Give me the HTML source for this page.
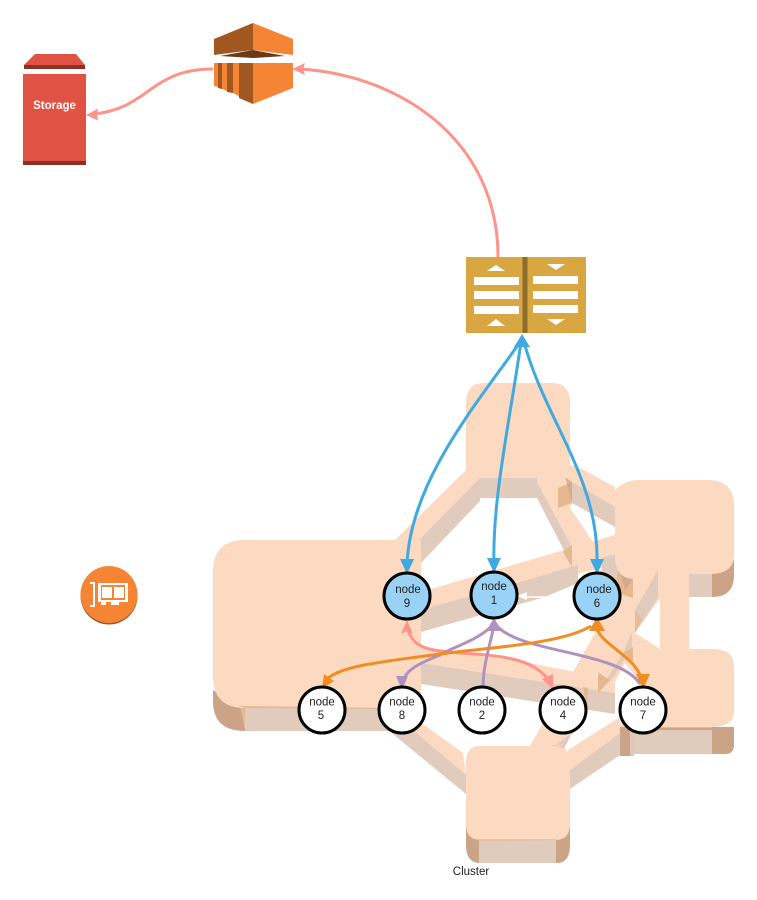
<!DOCTYPE html>
<html><head><meta charset="utf-8"><style>
html,body{margin:0;padding:0;background:#fff;width:757px;height:900px;overflow:hidden}
svg{display:block}
text{font-family:"Liberation Sans",sans-serif;fill:#222;font-size:11.5px;text-anchor:middle}
.p{fill:#fbdac1}.s{fill:#e1cbbc}.d{fill:#cba488}.m{fill:#e7b78f}
.e{fill:none;stroke-width:3}
.n{stroke:#000;stroke-width:3}
</style></head><body>
<svg width="757" height="900" viewBox="0 0 757 900">
<!-- block bases -->
<path class="d" d="M213,690V701Q213,731 245,731V708Z"/>
<path class="s" d="M245,708H400V731H245Z"/>
<path class="m" d="M240,706L245,708L245,731Z"/>
<path class="d" d="M466,815V845Q466,863 480,863H557Q570,863 570,845V815Z"/>
<path class="s" d="M479,840H556V863H479Z"/>
<path class="d" d="M700,560H734V575Q734,597 712,597H700Z"/>
<path class="s" d="M689,574H712V597H689Z"/>
<path class="d" d="M620,727H734V745Q734,754 725,754H712V730H630V756H620Z"/>
<path class="s" d="M634,730H712V754H634Z"/>

<!-- link peach -->
<path class="p" d="M466,470L480,478L413,546L395,540Z"/>
<path class="p" d="M537,478L570,465L580,468L615,487V507L572,503L570,508L595,545L600,570L572,566L572,547L537,482Z"/>
<path class="p" d="M421,592L530,560L615,535V565L421,610Z"/>
<path class="p" d="M421,647L530,663L615,680V693L421,663Z"/>
<path class="p" d="M420,722L463,753L466,775L413,730Z"/>
<path class="p" d="M568,750L620,717V733L570,770Z"/>
<path class="p" d="M530,746L543,723L573,672L595,633L600,570H660V598L635,633L660,649H633L640,682L625,663L615,682L598,672L590,690L573,733L553,746Z"/>
<path class="p" d="M660,565H689V655H660Z"/>

<!-- link shadows -->
<path class="s" d="M480,478H537V498H480Z"/>
<path class="s" d="M480,478V501L421,563L413,566V546Z"/>
<path class="s" d="M537,482L572,547V566L537,498Z"/>
<path class="s" d="M572,482L615,507V527L572,503Z"/>
<path class="s" d="M421,610L517,583L578,565V583L545,597L421,632Z"/>
<path class="s" d="M421,663L615,693V714L421,684Z"/>
<path class="s" d="M383,726L413,730L466,775V794Z"/>
<path class="s" d="M570,770L620,733V755L570,789Z"/>
<path class="s" d="M635,610L658,570V598L635,633Z"/>
<path class="s" d="M598,693L623,653L632,632V647L613,678Z"/>
<path class="s" d="M555,745L572,733L565,747Z"/>
<path class="s" d="M602,558L623,552L618,572L615,590L602,575Z"/>

<!-- darker overlap pieces -->
<path class="m" d="M563,552L572,545V567Z"/>
<path class="m" d="M558,488L572,482V503L558,508Z"/>
<path class="d" d="M565,477L572,482V503Z" opacity=".7"/>
<path class="m" d="M635,610V633L642,620Z" opacity=".7"/>
<path class="m" d="M598,672V693L610,680Z"/>
<path class="m" d="M623,653L633,647V662Z"/>
<path class="m" d="M553,745L565,747L553,767Z"/>
<path class="m" d="M583,687L588,688L587,710Z"/>
<path class="m" d="M618,570Q622,578 633,579V598L615,592Z"/>
<path class="d" d="M620,573Q624,578 633,579L625,590Z" opacity=".7"/>
<path class="d" d="M620,725H634V756H620Z" opacity=".6"/>

<!-- blocks -->
<path class="p" d="M245,540H421V708H245Q213,708 213,676V572Q213,540 245,540Z"/>
<path class="p" d="M484,383H552Q570,383 570,403V478H466V403Q466,383 484,383Z"/>
<path class="p" d="M480,746H555Q570,746 570,762V824Q570,840 555,840H481Q466,840 466,824V762Q466,746 480,746Z"/>
<path class="p" d="M640,480H708Q734,480 734,506V555Q734,573 712,574H689V600H660V570L633,579Q617,578 615,560V490Q625,480 640,480Z"/>
<path class="p" d="M633,649H712Q734,649 734,666V711Q734,727 712,727H620L640,682Z"/>
<path class="m" d="M240,706L390,708V709L245,708Z"/>
<path class="m" d="M478,841L556,840V839L478,839Z" opacity=".7"/>
<path class="m" d="M640,727H712V728H640Z"/>

<!-- white link 6-1 -->
<path d="M575,597H525" stroke="#fff" stroke-width="1.5" fill="none"/>
<path d="M517,596L527,592V600Z" fill="#fff"/>

<!-- storage -->
<path fill="#e05243" d="M35,54H76L85,65H24Z"/>
<path fill="#8c3123" d="M24,65H85V69H24Z"/>
<path fill="#e05243" d="M23,74H86V161H23Z"/>
<path fill="#8c3123" d="M23,161H86V165H23Z"/>
<text x="54.500" y="109" style="fill:#fff;font-weight:bold;font-size:11.500px">Storage</text>

<!-- kinesis icon -->
<path fill="#a15722" d="M214,39L253,23V50L214,55Z"/>
<path fill="#f58534" d="M253,23L293,39V55L253,50Z"/>
<path fill="#6b3a19" d="M220,56L253,50L285,56L253,58Z"/>
<path fill="#f58534" d="M253,63H293V88L253,104Z"/>
<path fill="#a15722" d="M246,63H253V104L246,101Z"/>
<path fill="#f58534" d="M214,63H218V87L214,86Z"/>
<path fill="#a15722" d="M218,63H222V89L218,88Z"/>
<path fill="#f58534" d="M222,63H227V91L222,89Z"/>
<path fill="#a15722" d="M227,63H233V93L227,92Z"/>
<path fill="#f58534" d="M233,63H239V96L233,93Z"/>
<path fill="#a15722" d="M239,63H246V101L239,98Z"/>

<!-- book icon -->
<rect x="466" y="257" width="120" height="76" fill="#d9a741"/>
<rect x="522.500" y="257" width="5" height="76" fill="#8c6d2c"/>
<g fill="#fff">
<rect x="474" y="277" width="45" height="8"/><rect x="474" y="291" width="45" height="8"/><rect x="474" y="306" width="45" height="8"/>
<rect x="533" y="276" width="45" height="8"/><rect x="533" y="291" width="45" height="8"/><rect x="533" y="305" width="45" height="8"/>
<path d="M487,271L496,265L505,271Z"/><path d="M487,326L496,319L505,326Z"/>
<path d="M547,264H565L556,270Z"/><path d="M547,319H565L556,325Z"/>
</g>

<!-- circle icon -->
<circle cx="109" cy="596" r="28.500" fill="#a15722"/>
<circle cx="109" cy="594.500" r="28.500" fill="#f58534"/>
<g fill="#fff">
<path d="M90,582H95V607H90V605H93V584H90Z"/>
<path d="M98,583H128V602H119V605H111V602H106V605H101V602H98ZM101,585V600H125V585Z"/>
<rect x="102" y="587" width="10" height="11"/><rect x="114" y="587" width="10" height="11"/>
</g>

<!-- edges -->
<path class="e" stroke="#fe9389" d="M498,257C498,140 400,75 300,69"/>
<path fill="#fe9389" d="M292,69L305,63L303,69L305,75Z"/>
<path class="e" stroke="#fe9389" d="M213,69C150,69 150,108 94,114"/>
<path fill="#fe9389" d="M86,115L98,108.500L97,114.500L98,120.500Z"/>
<path class="e" stroke="#3fa9e0" d="M520,342C480,400 410,480 407,565"/>
<path class="e" stroke="#3fa9e0" d="M521,342C510,420 492,500 494,565"/>
<path class="e" stroke="#3fa9e0" d="M524,342C545,420 600,480 597,565"/>
<path fill="#3fa9e0" d="M522,334L530,347H514Z"/>
<path fill="#3fa9e0" d="M407,574L400,559H414Z"/>
<path fill="#3fa9e0" d="M494,573L487,558H501Z"/>
<path fill="#3fa9e0" d="M597,574L590,559H604Z"/>

<path class="e" stroke="#fe9389" d="M407,626C412,650 430,650 460,653C510,656 535,660 551,683"/>
<path fill="#fe9389" d="M407,620L413,634L407,631L401,634Z"/>
<path fill="#fe9389" d="M553,689L542,679L553,674Z"/>

<path class="e" stroke="#b092bf" d="M492,626C475,642 450,648 440,655C420,663 405,670 403,682"/>
<path fill="#b092bf" d="M402,690L396,676L408,676Z"/>
<path class="e" stroke="#b092bf" d="M483,688C483,665 490,645 494,626"/>
<path class="e" stroke="#b092bf" d="M497,626C505,635 520,640 530,643C570,655 625,660 640,684"/>
<path fill="#b092bf" d="M494,618L502,631H486Z"/>

<path class="e" stroke="#ef8d22" d="M591,626C560,645 480,648 440,654C390,661 340,665 326,680"/>
<path fill="#ef8d22" d="M322,689L324,674L334,681Z"/>
<path class="e" stroke="#ef8d22" d="M596,626C600,645 635,655 642,680"/>
<path fill="#ef8d22" d="M597,617L605,631L589,631Z"/>
<path fill="#ef8d22" d="M643,689L636,674L650,674Z"/>

<!-- nodes -->
<g class="n">
<circle cx="407" cy="596" r="23" fill="#9ad2f5"/>
<circle cx="494" cy="595" r="23" fill="#9ad2f5"/>
<circle cx="597" cy="596" r="23" fill="#9ad2f5"/>
<circle cx="322" cy="710" r="23" fill="#fff"/>
<circle cx="402" cy="710" r="23" fill="#fff"/>
<circle cx="482" cy="710" r="23" fill="#fff"/>
<circle cx="563" cy="710" r="23" fill="#fff"/>
<circle cx="643" cy="710" r="23" fill="#fff"/>
</g>
<text x="408" y="593">node</text><text x="407" y="607">9</text>
<text x="494" y="590">node</text><text x="494" y="604">1</text>
<text x="599" y="593">node</text><text x="597" y="607">6</text>
<text x="322" y="705.500">node</text><text x="321" y="719">5</text>
<text x="402" y="705.500">node</text><text x="402" y="719">8</text>
<text x="482" y="705.500">node</text><text x="482" y="719">2</text>
<text x="563" y="705.500">node</text><text x="563" y="719">4</text>
<text x="643" y="705.500">node</text><text x="643" y="719">7</text>
<text x="471" y="875">Cluster</text>
</svg>
</body></html>
